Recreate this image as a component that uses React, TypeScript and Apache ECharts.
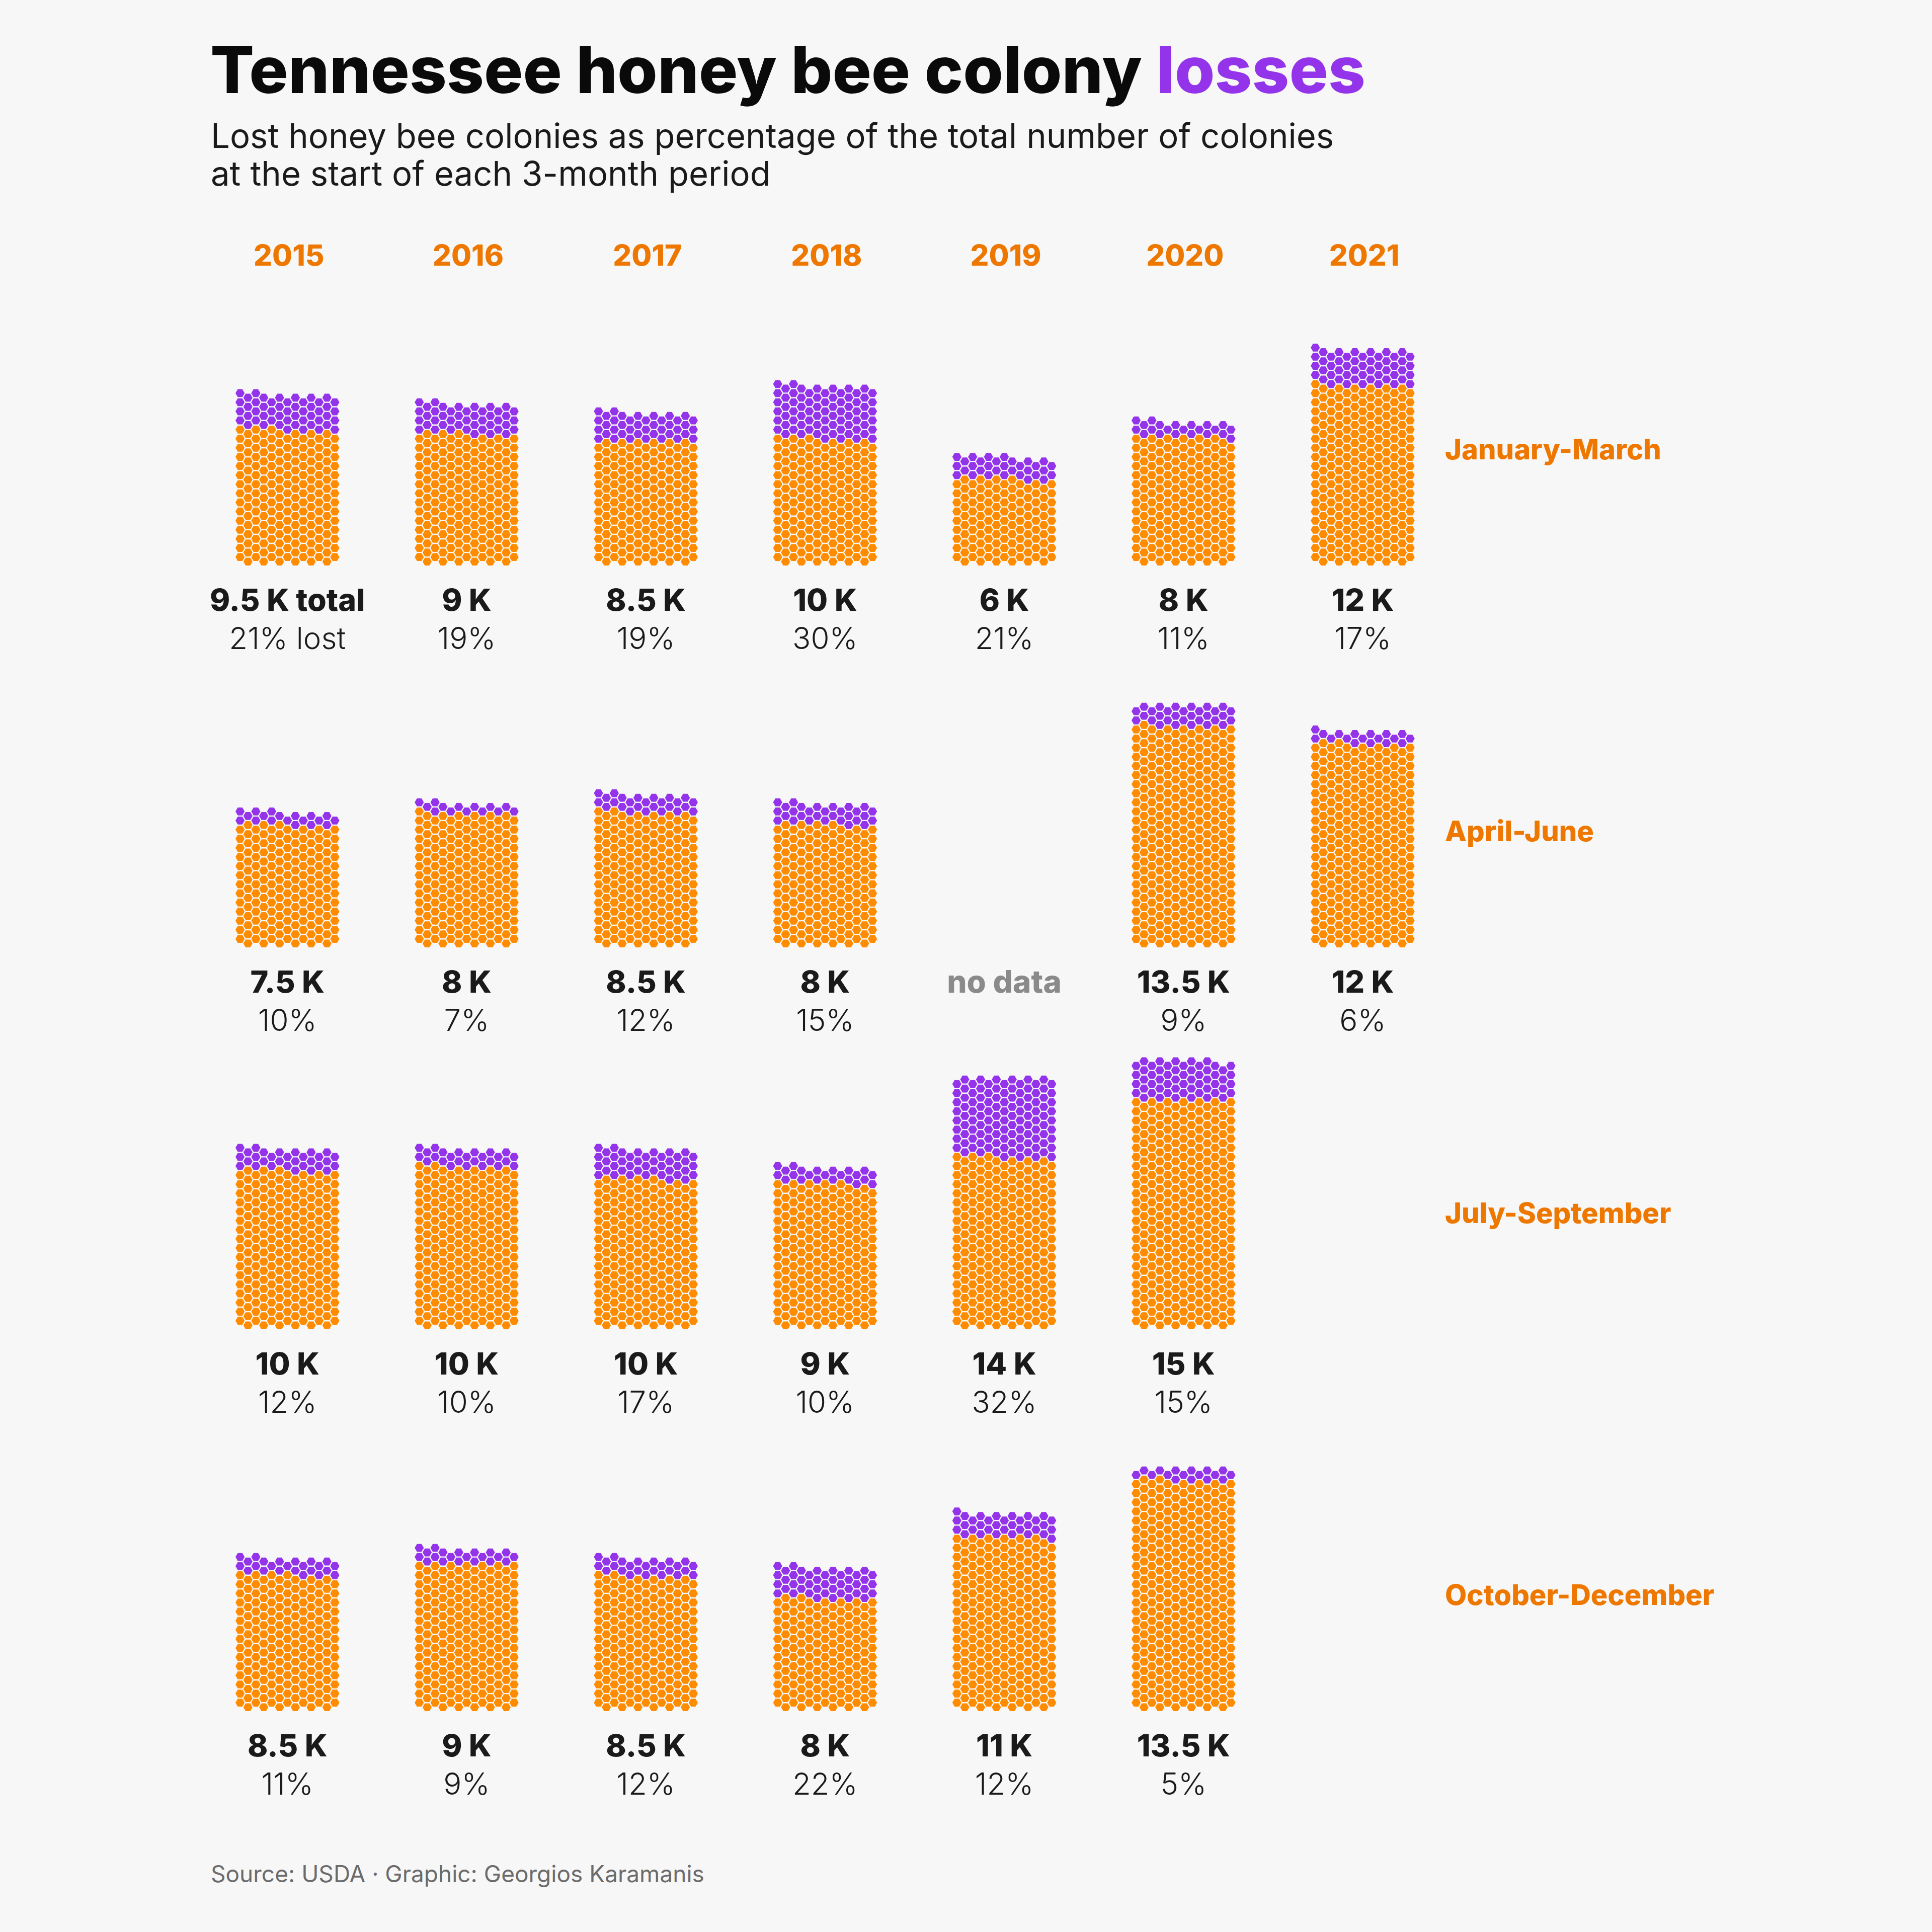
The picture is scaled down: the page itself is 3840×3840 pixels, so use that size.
import React, { useEffect, useRef } from "react";
import * as echarts from "echarts";

// ---------- data (1 hexagon = 40 colonies) ----------
const years = ["2015", "2016", "2017", "2018", "2019", "2020", "2021"];
const quarters = ["January-March", "April-June", "July-September", "October-December"];

// colonies at the start of each 3-month period
const coloniesJanMar = [9680, 9160, 8640, 10200, 6120, 8120, 12240];
const coloniesAprJun = [7640, 8120, 8640, 8120, null, 13760, 12240];
const coloniesJulSep = [10200, 10200, 10200, 9160, 14280, 15280, null];
const coloniesOctDec = [8640, 9160, 8640, 8120, 11200, 13760, null];

// percentage of colonies lost
const lostJanMar = [21, 19, 19, 30, 21, 11, 17];
const lostAprJun = [10, 7, 12, 15, null, 9, 6];
const lostJulSep = [12, 10, 17, 10, 32, 15, null];
const lostOctDec = [11, 9, 12, 22, 12, 5, null];

// cells explicitly marked "no data" [quarterIndex, yearIndex]
const noDataCells = [[1, 4]];

const COLONIES_PER_HEX = 40;
const HEX_COLS = 13;

// ---------- layout / style ----------
const W = 3840;
const H = 3840;
const BG = "#F7F7F7";
const ORANGE = "#FF8C00";
const PURPLE = "#9333EA";
const LABEL_ORANGE = "#EE7700";
const FONT = "Inter, 'Noto Sans', sans-serif";

const PANEL_X0 = 571.3;
const PANEL_DX = 356.2;
const ROW0_Y0 = 1107.2; // centre of bottom hexagon (odd column) in first band
const BAND_DY = 759;
const COL_STEP = 15.7;
const ROW_STEP = 18.1;
const HEX_SIZE = [18.2, 15.7];
const Y_MIN = -1;
const Y_MAX = 31;

const HEX_PATH = "path://M-1,0L-0.5,-0.866L0.5,-0.866L1,0L0.5,0.866L-0.5,0.866Z";

function hexCells(n: number, lost: number) {
  const kept: number[][] = [];
  const gone: number[][] = [];
  const half = Math.floor(HEX_COLS / 2);
  for (let i = 0; i < n; i++) {
    const r = Math.floor(i / HEX_COLS);
    const k = i % HEX_COLS;
    const c = k < half ? 2 * k + 1 : 2 * (k - half);
    const y = c % 2 === 1 ? r - 0.5 : r;
    (i < n - lost ? kept : gone).push([c, y]);
  }
  return { kept, gone };
}

function fmtK(colonies: number) {
  const k = Math.floor(colonies / 500) / 2;
  return `${k} K`;
}

function buildOption() {
  const colonies = [coloniesJanMar, coloniesAprJun, coloniesJulSep, coloniesOctDec];
  const lostPct = [lostJanMar, lostAprJun, lostJulSep, lostOctDec];

  const grids: any[] = [];
  const xAxes: any[] = [];
  const yAxes: any[] = [];
  const series: any[] = [];
  const graphics: any[] = [];

  const text = (x: number, y: number, t: string, size: number, weight: any, fill: string, align = "center") => ({
    type: "text",
    x,
    y,
    silent: true,
    style: {
      text: t,
      fontSize: size,
      fontWeight: weight,
      fontFamily: FONT,
      fill,
      align,
      verticalAlign: "middle",
    },
  });

  // title + subtitle
  graphics.push({
    type: "text",
    x: 418,
    y: 138,
    silent: true,
    style: {
      text: "{a|Tennessee honey bee colony }{b|losses}",
      fontSize: 129,
      fontWeight: 800,
      fontFamily: FONT,
      fill: "#0a0a0a",
      align: "left",
      verticalAlign: "middle",
      rich: {
        a: { fontSize: 129, fontWeight: 800, fontFamily: FONT, fill: "#0a0a0a", color: "#0a0a0a" },
        b: { fontSize: 129, fontWeight: 800, fontFamily: FONT, fill: PURPLE, color: PURPLE },
      },
    },
  });
  graphics.push(text(419, 269, "Lost honey bee colonies as percentage of the total number of colonies", 67, 400, "#1a1a1a", "left"));
  graphics.push(text(419, 344, "at the start of each 3-month period", 67, 400, "#1a1a1a", "left"));

  years.forEach((yr, j) => {
    graphics.push(text(PANEL_X0 + 3 + j * PANEL_DX, 507, yr, 58, 800, LABEL_ORANGE));
  });
  quarters.forEach((qn, q) => {
    graphics.push(text(2872, 893 + q * BAND_DY, qn, 56, 800, LABEL_ORANGE, "left"));
  });

  graphics.push(text(419, 3724, "Source: USDA · Graphic: Georgios Karamanis", 46, 400, "#6b6b6b", "left"));

  let gi = 0;
  for (let q = 0; q < 4; q++) {
    for (let j = 0; j < years.length; j++) {
      const cx = PANEL_X0 + j * PANEL_DX;
      const label1Y = 1191.5 + q * BAND_DY;
      const label2Y = 1267.5 + q * BAND_DY;
      const total = colonies[q][j];
      const pct = lostPct[q][j];
      if (total == null || pct == null) {
        if (noDataCells.some(([a, b]) => a === q && b === j)) {
          graphics.push(text(cx, label1Y, "no data", 62, 800, "#8a8a8a"));
        }
        continue;
      }
      const n = Math.round(total / COLONIES_PER_HEX);
      const lost = Math.round((n * pct) / 100);
      const { kept, gone } = hexCells(n, lost);

      const row0 = ROW0_Y0 + q * BAND_DY;
      const bottom = row0 + ROW_STEP * (0 - Y_MIN);
      const height = ROW_STEP * (Y_MAX - Y_MIN);
      grids.push({
        left: cx - 7 * COL_STEP,
        width: 14 * COL_STEP,
        top: bottom - height,
        height,
        containLabel: false,
        outerBoundsMode: "none",
      });
      xAxes.push({ gridIndex: gi, type: "value", min: -1, max: 13, show: false });
      yAxes.push({ gridIndex: gi, type: "value", min: Y_MIN, max: Y_MAX, show: false });
      series.push({
        type: "scatter",
        xAxisIndex: gi,
        yAxisIndex: gi,
        data: kept,
        symbol: HEX_PATH,
        symbolSize: HEX_SIZE,
        itemStyle: { color: ORANGE, opacity: 1 },
        silent: true,
      });
      series.push({
        type: "scatter",
        xAxisIndex: gi,
        yAxisIndex: gi,
        data: gone,
        symbol: HEX_PATH,
        symbolSize: HEX_SIZE,
        itemStyle: { color: PURPLE, opacity: 1 },
        silent: true,
      });

      const first = q === 0 && j === 0;
      graphics.push(text(cx, label1Y, fmtK(total) + (first ? " total" : ""), 61, 800, "#1a1a1a"));
      graphics.push(text(cx, label2Y, `${pct}%` + (first ? " lost" : ""), 60, 300, "#1a1a1a"));
      gi++;
    }
  }

  return {
    animation: false,
    backgroundColor: BG,
    grid: grids,
    xAxis: xAxes,
    yAxis: yAxes,
    series,
    graphic: graphics,
    tooltip: { show: false },
  };
}

export default function App() {
  const ref = useRef<HTMLDivElement>(null);
  useEffect(() => {
    if (!ref.current) return;
    const chart = echarts.init(ref.current, null, { renderer: "svg", width: W, height: H });
    chart.setOption(buildOption() as any);
    return () => chart.dispose();
  }, []);
  return (
    <div
      ref={ref}
      style={{ position: "absolute", left: 0, top: 0, width: W, height: H, background: BG }}
    />
  );
}
